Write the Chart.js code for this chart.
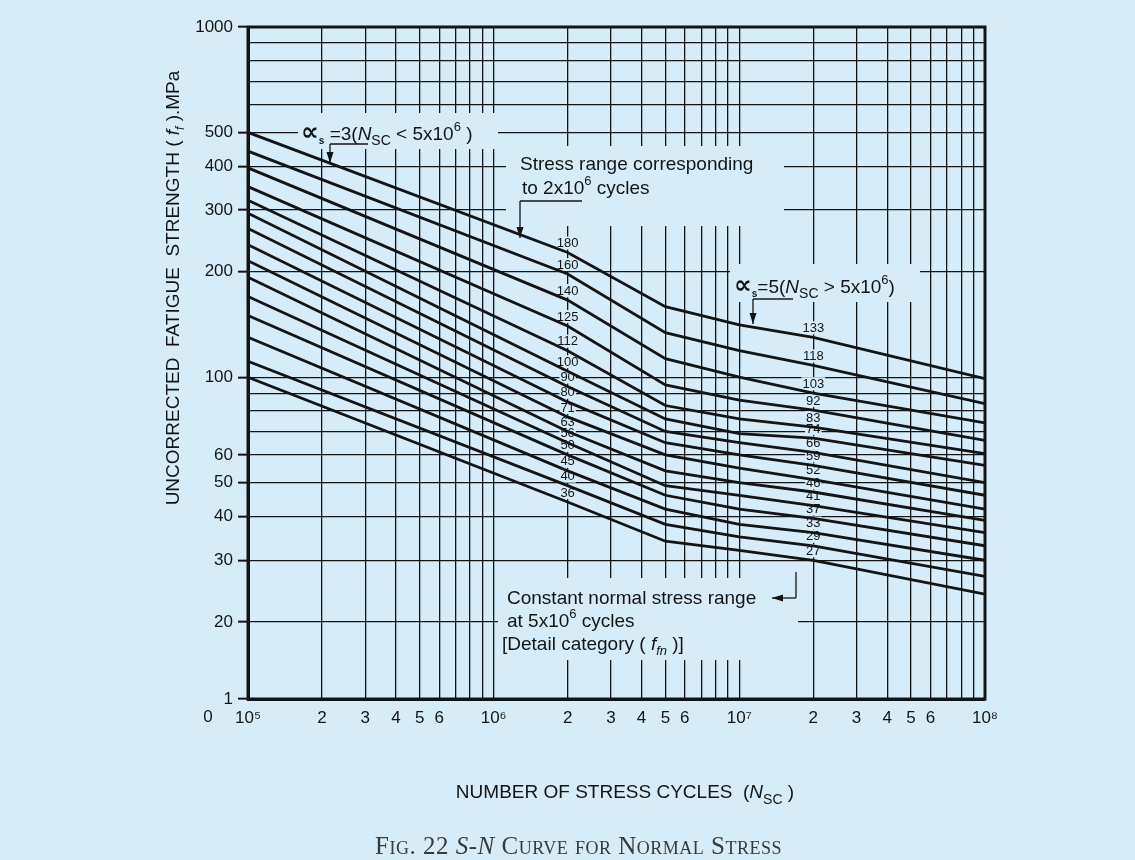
<!DOCTYPE html>
<html>
<head>
<meta charset="utf-8">
<script src="https://cdn.jsdelivr.net/npm/chart.js@4.4.1/dist/chart.umd.min.js"></script>
<style>
  html, body { margin: 0; padding: 0; background: #d6edf9; }
  #wrap { position: relative; width: 1135px; height: 860px; }
  #snChart { position: absolute; left: 0; top: 0; }
  #caption {
    position: absolute; left: 0; top: 831px; width: 1135px; padding-left: 22px; box-sizing: border-box;
    text-align: center; font-family: "Liberation Serif", "DejaVu Serif", serif; font-size: 25px;
    line-height: 30px; letter-spacing: 0.5px; font-variant: small-caps; color: #3a3a3a;
  }
</style>
</head>
<body>
<div id="wrap">
  <canvas id="snChart" width="1135" height="860"></canvas>
  <div id="caption">Fig. 22 <i>S-N</i> Curve for Normal Stress</div>
</div>
<script>
'use strict'

// number of stress cycles where each curve was read
const cycles = [1e5, 2e6, 5e6, 1e7, 2e7, 1e8];

// uncorrected fatigue strength (MPa) at those cycles
const s180 = [500, 227, 159, 141, 130, 99];
const s160 = [442, 197, 134, 119, 108, 84];
const s140 = [396, 166, 113, 100, 90, 74];
const s125 = [350, 140, 95, 86, 80.5, 66];
const s112 = [320, 119, 83, 76, 72, 60.5];
const s100 = [294, 104, 76, 69, 67, 56];
const s90 = [266, 94, 70, 65, 61, 50];
const s80 = [239, 85, 65, 60, 56, 46];
const s71 = [215, 77, 60, 55, 51, 42];
const s63 = [193, 70, 54, 50, 47, 39];
const s56 = [170, 65, 49, 46, 43, 36];
const s50 = [150, 60, 46, 42, 39.5, 33];
const s45 = [130, 54, 42, 38, 36, 30];
const s40 = [111, 49, 38, 35, 33, 27];
const s36 = [100, 44, 34, 32, 30, 24];

const series = [s180, s160, s140, s125, s112, s100, s90, s80, s71, s63, s56, s50, s45, s40, s36];

// category at 2x10^6 cycles and constant stress range at 5x10^6 cycles
const leftLabels = ['180', '160', '140', '125', '112', '100', '90', '80', '71', '63', '56', '50', '45', '40', '36'];
const rightLabels = ['133', '118', '103', '92', '83', '74', '66', '59', '52', '46', '41', '37', '33', '29', '27'];

const xTicks = [1e5, 2e5, 3e5, 4e5, 5e5, 6e5, 7e5, 8e5, 9e5,
  1e6, 2e6, 3e6, 4e6, 5e6, 6e6, 7e6, 8e6, 9e6,
  1e7, 2e7, 3e7, 4e7, 5e7, 6e7, 7e7, 8e7, 9e7, 1e8];
const xTickText = ['10\u2075', '2', '3', '4', '5', '6', '', '', '',
  '10\u2076', '2', '3', '4', '5', '6', '', '', '',
  '10\u2077', '2', '3', '4', '5', '6', '', '', '', '10\u2078'];

// bottom of the broken axis is marked "1"
const yTicks = [12.05, 20, 30, 40, 50, 60, 70, 80, 90, 100, 200, 300, 400, 500, 600, 700, 800, 900, 1000];
const yTickText = ['1', '20', '30', '40', '50', '60', '', '', '', '100', '200', '300', '400', '500', '', '', '', '', '1000'];

const ink = '#141414';
const paper = '#d6edf9';
const sans = '"Liberation Sans", Arial, Helvetica, sans-serif';

function runsWidth(ctx, parts) {
  let w = 0;
  parts.forEach(p => { ctx.font = p[1]; w += ctx.measureText(p[0]).width; });
  return w;
}

function runs(ctx, x, y, parts) {
  let cx = x;
  parts.forEach(p => {
    ctx.font = p[1];
    ctx.fillText(p[0], cx, y + (p[2] || 0));
    cx += ctx.measureText(p[0]).width;
  });
  return cx;
}

function arrow(ctx, x1, y1, x2, y2) {
  ctx.beginPath();
  ctx.moveTo(x1, y1);
  ctx.lineTo(x2, y2);
  ctx.stroke();
  const a = Math.atan2(y2 - y1, x2 - x1);
  ctx.beginPath();
  ctx.moveTo(x2, y2);
  ctx.lineTo(x2 - 11 * Math.cos(a) + 3.5 * Math.sin(a), y2 - 11 * Math.sin(a) - 3.5 * Math.cos(a));
  ctx.lineTo(x2 - 11 * Math.cos(a) - 3.5 * Math.sin(a), y2 - 11 * Math.sin(a) + 3.5 * Math.cos(a));
  ctx.closePath();
  ctx.fill();
}

const f19 = '19px ' + sans;
const i19 = 'italic 19px ' + sans;
const s13 = '13px ' + sans;
const s14 = '14px ' + sans;

const slope3 = [['\u221D', 'bold 25px "DejaVu Sans"'], ['s', 'bold 10px ' + sans, 4], [' =3(', f19], ['N', i19],
  ['SC', s14, 5], [' < 5x10', f19], ['6', s13, -9], [' )', f19]];
const slope5 = [['\u221D', 'bold 25px "DejaVu Sans"'], ['s', 'bold 10px ' + sans, 4], ['=5(', f19], ['N', i19],
  ['SC', s14, 5], [' > 5x10', f19], ['6', s13, -9], [')', f19]];

function labelSpots(chart) {
  const xs = chart.scales.x, ys = chart.scales.y;
  const out = [];
  series.forEach((s, i) => {
    out.push([leftLabels[i], xs.getPixelForValue(cycles[1]), ys.getPixelForValue(s[1]) - 9]);
    out.push([rightLabels[i], xs.getPixelForValue(cycles[4]), ys.getPixelForValue(s[4]) - 9]);
  });
  return out;
}

const notes = {
  id: 'notes',
  beforeDatasetsDraw(chart) {
    const ctx = chart.ctx;
    ctx.save();
    ctx.fillStyle = paper;
    // gaps in the grid behind the notes
    ctx.fillRect(298, 113, 200, 36);
    ctx.fillRect(506, 146, 278, 80);
    ctx.fillRect(730, 264, 190, 38);
    ctx.fillRect(498, 578, 300, 82);
    ctx.font = s13;
    labelSpots(chart).forEach(l => {
      const w = ctx.measureText(l[0]).width;
      ctx.fillRect(l[1] - w / 2 - 1, l[2] - 7, w + 2, 13);
    });
    ctx.restore();
  },
  afterDatasetsDraw(chart) {
    const ctx = chart.ctx;
    const a = chart.chartArea;
    ctx.save();
    ctx.fillStyle = ink;
    ctx.strokeStyle = ink;

    // curve labels
    ctx.font = s13;
    ctx.textAlign = 'center';
    ctx.textBaseline = 'middle';
    labelSpots(chart).forEach(l => ctx.fillText(l[0], l[1], l[2]));

    ctx.textAlign = 'left';
    ctx.textBaseline = 'alphabetic';

    // slope notes
    runs(ctx, 301, 140, slope3);
    ctx.lineWidth = 1.3;
    ctx.beginPath(); ctx.moveTo(330, 144); ctx.lineTo(368, 144); ctx.stroke();
    arrow(ctx, 330, 144, 330, 163);

    runs(ctx, 734, 293, slope5);
    ctx.beginPath(); ctx.moveTo(753, 299); ctx.lineTo(793, 299); ctx.stroke();
    arrow(ctx, 753, 299, 753, 324);

    // 2x10^6 note
    runs(ctx, 520, 170, [['Stress range corresponding', f19]]);
    runs(ctx, 522, 194, [['to 2x10', f19], ['6', s13, -9], [' cycles', f19]]);
    ctx.beginPath(); ctx.moveTo(520, 201); ctx.lineTo(582, 201); ctx.stroke();
    arrow(ctx, 520, 201, 520, 238);

    // 5x10^6 note
    runs(ctx, 507, 604, [['Constant normal stress range', f19]]);
    runs(ctx, 507, 627, [['at 5x10', f19], ['6', s13, -9], [' cycles', f19]]);
    runs(ctx, 502, 650, [['[Detail category ( ', f19], ['f', i19], ['fn', 'italic 13px ' + sans, 5], [' )]', f19]]);
    ctx.beginPath(); ctx.moveTo(796, 572); ctx.lineTo(796, 598); ctx.stroke();
    arrow(ctx, 796, 598, 772, 598);

    // frame
    ctx.lineWidth = 3;
    ctx.strokeRect(a.left, a.top, a.right - a.left, a.bottom - a.top);

    // corner zero
    ctx.font = '17px ' + sans;
    ctx.textAlign = 'center';
    ctx.textBaseline = 'top';
    ctx.fillText('0', a.left - 40, a.bottom + 10);

    // x title
    const xt = [['NUMBER OF STRESS CYCLES  (', f19], ['N', i19], ['SC', s14, 6], [' )', f19]];
    ctx.textAlign = 'left';
    ctx.textBaseline = 'alphabetic';
    runs(ctx, 625 - runsWidth(ctx, xt) / 2, 798, xt);

    // y title
    const yt = [['UNCORRECTED  FATIGUE  STRENGTH ( ', f19], ['f', i19], ['f', 'italic 12px ' + sans, 5], [' ).MPa', f19]];
    ctx.translate(172, 288);
    ctx.rotate(-Math.PI / 2);
    runs(ctx, -runsWidth(ctx, yt) / 2, 7, yt);
    ctx.restore();
  }
};

const datasets = series.map((s, i) => ({
  label: leftLabels[i],
  data: cycles.map((c, k) => ({ x: c, y: s[k] })),
  borderColor: ink,
  borderWidth: 2.8,
  pointRadius: 0,
  tension: 0,
  fill: false
}));

const config = {
  type: 'line',
  data: { datasets },
  options: {
    responsive: false,
    animation: false,
    devicePixelRatio: 1,
    layout: { padding: { left: 0, top: 27, right: 150, bottom: 121 } },
    plugins: { legend: { display: false }, tooltip: { enabled: false } },
    scales: {
      x: {
        type: 'logarithmic', min: 1e5, max: 1e8, bounds: 'data',
        afterBuildTicks: s => { s.ticks = xTicks.map(v => ({ value: v })); },
        afterFit: s => { s.height = 40; },
        ticks: { autoSkip: false, maxRotation: 0, padding: 3, color: ink, font: { family: sans, size: 17 },
          callback: (v, i) => xTickText[i] },
        grid: { color: ink, lineWidth: 1.3, tickLength: 6, tickColor: 'rgba(0,0,0,0)' },
        border: { color: ink, width: 3 }
      },
      y: {
        type: 'logarithmic', min: 12.05, max: 1000, bounds: 'data',
        afterBuildTicks: s => { s.ticks = yTicks.map(v => ({ value: v })); },
        afterFit: s => { s.width = 248; },
        ticks: { autoSkip: false, padding: 5, color: ink, font: { family: sans, size: 17 },
          callback: (v, i) => yTickText[i] },
        grid: { color: ink, lineWidth: 1.3, tickLength: 10, tickWidth: 2,
          tickColor: c => yTickText[c.index] ? ink : 'rgba(0,0,0,0)' },
        border: { color: ink, width: 3 }
      }
    }
  },
  plugins: [notes]
};

const snChart = new Chart(document.querySelector('#snChart'), config);
</script>
</body>
</html>
